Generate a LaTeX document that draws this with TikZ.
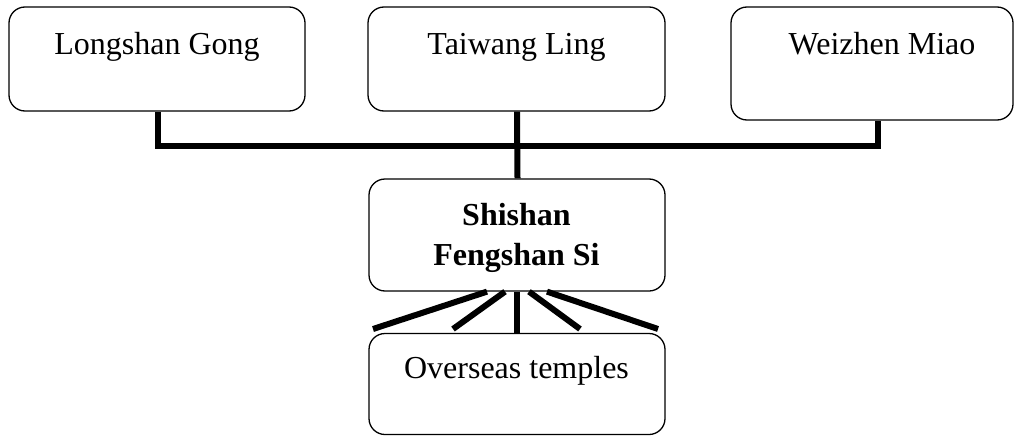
\documentclass[tikz,border=0pt]{standalone}
\usepackage{fontspec}
\setmainfont{Liberation Serif}
\begin{document}
\begin{tikzpicture}[x=1pt,y=-1pt,
  box/.style={draw=black,line width=1.3pt,rounded corners=16pt,inner sep=0pt,fill=white},
  lbl/.style={anchor=base,inner sep=0pt,font=\fontsize{32}{38}\selectfont},
  blbl/.style={lbl,font=\fontsize{32}{38}\selectfont\bfseries},
  conn/.style={draw=black,line width=6pt}]
\useasboundingbox (0,0) rectangle (1016,436);
% boxes
\node[box,minimum width=296pt,minimum height=104pt] (lg) at (157,59) {};
\node[box,minimum width=297pt,minimum height=104pt] (tl) at (516.5,59) {};
\node[box,minimum width=282pt,minimum height=113pt] (wm) at (872,63.5) {};
\node[box,minimum width=296pt,minimum height=112pt] (sf) at (517,235) {};
\node[box,minimum width=296pt,minimum height=101pt] (ot) at (517,384) {};
% texts
\node[lbl] (lgt) at (157,55) {Longshan Gong};
\node[lbl] (tlt) at (516.5,55) {Taiwang Ling};
\node[lbl] (wmt) at (882,55) {Weizhen Miao};
\node[blbl] (sft1) at (516.5,225) {Shishan};
\node[blbl] (sft2) at (516.5,265) {Fengshan Si};
\node[lbl] (ott) at (516.5,378) {Overseas temples};
% connectors
\coordinate (hl) at (0,146);
\draw[conn] ([xshift=0.5pt]lg.south) |- ([xshift=6pt]hl -| wm.south) -- ([xshift=6pt]wm.south);
\draw[conn] ([xshift=0.5pt]tl.south) -- ([xshift=0.5pt]sf.north);
% fan
\coordinate (f1) at (373,329);
\coordinate (f2) at (453,329);
\coordinate (f4) at (580,329);
\coordinate (f5) at (658,329);
\draw[conn] ([xshift=-30pt]sf.south) -- (f1);
\draw[conn] ([xshift=-12pt]sf.south) -- (f2);
\draw[conn] (sf.south) -- (ot.north);
\draw[conn] ([xshift=12pt]sf.south) -- (f4);
\draw[conn] ([xshift=30pt]sf.south) -- (f5);
\end{tikzpicture}
\end{document}
